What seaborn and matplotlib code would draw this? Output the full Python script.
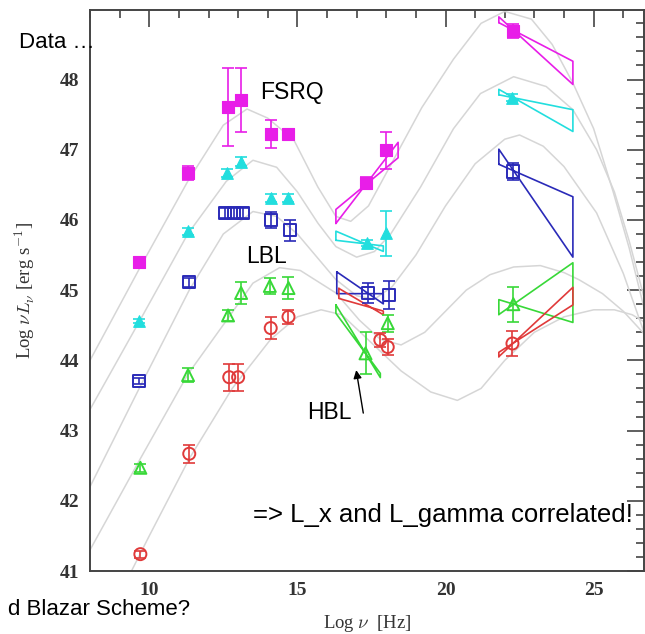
import numpy as np
import pandas as pd
import matplotlib
matplotlib.use("Agg")
import matplotlib.pyplot as plt
import seaborn as sns
from matplotlib.ticker import MultipleLocator

# ---------------- data ----------------
bins = ["bin1", "bin2", "bin3", "bin4", "bin5"]
colors = {"bin1": "#e81ee8", "bin2": "#22dede", "bin3": "#2a2ab8", "bin4": "#38d838", "bin5": "#e03a3a"}

# data points: log nu, log nuL_nu, error
b1_x = [9.66, 11.31, 12.66, 13.10, 14.10, 14.70, 17.30, 17.98, 22.29]
b1_y = [45.40, 46.67, 47.61, 47.71, 47.23, 47.23, 46.53, 46.99, 48.69]
b1_e = [0.03, 0.10, 0.55, 0.46, 0.20, 0.05, 0.08, 0.26, 0.10]

b2_x = [9.66, 11.31, 12.63, 13.10, 14.10, 14.70, 17.34, 18.00, 22.26]
b2_y = [44.56, 45.84, 46.67, 46.83, 46.31, 46.31, 45.67, 45.81, 47.74]
b2_e = [0.03, 0.05, 0.06, 0.06, 0.06, 0.06, 0.04, 0.32, 0.05]

b3_x = [9.66, 11.35, 12.55, 12.85, 13.15, 14.10, 14.75, 17.37, 18.08, 22.29]
b3_y = [43.71, 45.11, 46.10, 46.10, 46.10, 46.00, 45.85, 44.96, 44.93, 46.69]
b3_e = [0.04, 0.06, 0.07, 0.07, 0.07, 0.12, 0.15, 0.14, 0.20, 0.12]

b4_x = [9.70, 11.31, 12.66, 13.10, 14.07, 14.70, 17.30, 18.05, 22.29]
b4_y = [42.47, 43.79, 44.64, 44.96, 45.06, 45.03, 44.10, 44.53, 44.80]
b4_e = [0.06, 0.10, 0.08, 0.16, 0.12, 0.16, 0.30, 0.12, 0.25]

b5_x = [9.70, 11.35, 12.70, 13.00, 14.10, 14.70, 17.80, 18.05, 22.26]
b5_y = [41.24, 42.67, 43.76, 43.76, 44.46, 44.62, 44.29, 44.19, 44.24]
b5_e = [0.05, 0.13, 0.19, 0.19, 0.16, 0.10, 0.10, 0.12, 0.18]

# spectral bow-ties: pivot x, pivot y, x start, x end, slope a, slope b
b1_bowx = [17.30, 46.50, 16.30, 18.40, 0.55, 0.35]
b1_bowg = [22.30, 48.70, 21.80, 24.30, -0.22, -0.385]
b2_bowx = [17.30, 45.66, 16.30, 17.90, -0.05, -0.18]
b2_bowg = [22.30, 47.74, 21.80, 24.30, -0.085, -0.24]
b3_bowx = [17.40, 44.95, 16.33, 17.90, -0.29, 0.0]
b3_bowg = [22.30, 46.70, 21.80, 24.30, -0.185, -0.615]
b4_bowx = [17.30, 44.10, 16.30, 17.80, -0.69, -0.57]
b4_bowg = [22.30, 44.80, 21.80, 24.30, 0.295, -0.13]
b5_bowx = [17.50, 44.75, 16.40, 17.90, -0.25, -0.12]
b5_bowg = [22.30, 44.25, 21.80, 24.30, 0.395, 0.27]

# grey model SEDs
c1_x = [8.0, 9.66, 11.3, 12.5, 13.3, 14.0, 14.88, 15.69, 16.3, 16.8, 17.4, 18.25, 19.2, 20.27, 21.2, 22.0, 22.9, 23.6, 24.3, 25.0, 25.66, 26.2, 26.7]
c1_y = [44.0, 45.3, 46.55, 47.35, 47.58, 47.45, 47.14, 46.47, 46.05, 45.98, 46.2, 46.86, 47.6, 48.29, 48.8, 48.97, 48.86, 48.5, 47.95, 47.3, 46.4, 45.6, 44.75]
c2_x = [8.0, 9.66, 11.3, 12.6, 13.5, 14.3, 15.0, 15.7, 16.3, 17.0, 17.6, 18.15, 19.16, 20.27, 21.18, 22.3, 23.4, 24.3, 25.1, 25.7, 26.2, 26.7]
c2_y = [43.3, 44.55, 45.8, 46.55, 46.85, 46.75, 46.4, 45.95, 45.62, 45.47, 45.55, 45.8, 46.47, 47.3, 47.8, 48.04, 47.9, 47.57, 47.0, 46.4, 45.7, 44.9]
c3_x = [8.0, 9.66, 11.35, 12.5, 13.5, 14.3, 15.0, 15.7, 16.3, 17.0, 17.6, 18.2, 19.0, 20.0, 21.0, 22.0, 22.5, 23.3, 24.0, 25.1, 26.0, 26.7]
c3_y = [42.2, 43.6, 45.0, 45.8, 46.12, 46.05, 45.8, 45.45, 45.15, 44.92, 44.87, 45.05, 45.5, 46.2, 46.8, 47.15, 47.21, 47.05, 46.76, 46.1, 45.24, 44.4]
c4_x = [8.0, 9.7, 11.3, 12.66, 13.5, 14.4, 15.1, 16.3, 17.1, 17.8, 18.5, 19.3, 20.0, 20.7, 21.5, 22.3, 23.2, 24.0, 24.5, 25.3, 26.0, 26.7]
c4_y = [41.3, 42.6, 43.8, 44.6, 45.1, 45.32, 45.28, 44.96, 44.57, 44.3, 44.22, 44.4, 44.7, 45.0, 45.22, 45.33, 45.35, 45.25, 45.15, 44.95, 44.7, 44.38]
c5_x = [9.4, 10.0, 11.35, 12.8, 14.1, 15.0, 15.8, 16.5, 17.5, 18.5, 19.5, 20.4, 21.2, 22.0, 23.0, 24.0, 25.0, 25.7, 26.3, 26.7]
c5_y = [41.0, 41.5, 42.6, 43.6, 44.3, 44.62, 44.72, 44.65, 44.25, 43.85, 43.55, 43.43, 43.6, 44.0, 44.4, 44.62, 44.72, 44.72, 44.65, 44.55]

points = {"bin1": (b1_x, b1_y, b1_e), "bin2": (b2_x, b2_y, b2_e), "bin3": (b3_x, b3_y, b3_e),
          "bin4": (b4_x, b4_y, b4_e), "bin5": (b5_x, b5_y, b5_e)}
bowties = {"bin1": (b1_bowx, b1_bowg), "bin2": (b2_bowx, b2_bowg), "bin3": (b3_bowx, b3_bowg),
           "bin4": (b4_bowx, b4_bowg), "bin5": (b5_bowx, b5_bowg)}
curves = [(c1_x, c1_y), (c2_x, c2_y), (c3_x, c3_y), (c4_x, c4_y), (c5_x, c5_y)]
markers = {"bin1": "s", "bin2": "^", "bin3": "s", "bin4": "^", "bin5": "o"}
filled = {"bin1": True, "bin2": True, "bin3": False, "bin4": False, "bin5": False}

# ---------------- figure ----------------
sns.set_style("white")
plt.rcParams["font.family"] = ["Liberation Sans", "DejaVu Sans"]
plt.rcParams["mathtext.fontset"] = "cm"

W, H = 645, 634
fig = plt.figure(figsize=(W / 100, H / 100), dpi=100)
ax = fig.add_axes([90 / W, (H - 571) / H, (644 - 90) / W, (571 - 10) / H])

# model curves
for cx, cy in curves:
    dfc = pd.DataFrame({"x": cx, "y": cy})
    sns.lineplot(data=dfc, x="x", y="y", sort=False, estimator=None, ax=ax,
                 color="#d6d6d6", lw=1.1, zorder=1)

# bowties
for b in bins:
    for p in bowties[b]:
        x0, y0, x1, x2, s1, s2 = p
        bx = [x1, x2, x2, x1, x1]
        by = [y0 + s1 * (x1 - x0), y0 + s1 * (x2 - x0), y0 + s2 * (x2 - x0), y0 + s2 * (x1 - x0), y0 + s1 * (x1 - x0)]
        ax.plot(bx, by, color=colors[b], lw=1.2, zorder=2)

# data points with error bars
for b in bins:
    x, y, e = points[b]
    ax.errorbar(x, y, yerr=e, fmt="none", ecolor=colors[b], elinewidth=1.2, capsize=4.5, capthick=1.2, zorder=3)
    dfp = pd.DataFrame({"x": x, "y": y})
    if filled[b]:
        sns.scatterplot(data=dfp, x="x", y="y", ax=ax, marker=markers[b], s=70,
                        color=colors[b], edgecolor=colors[b], linewidth=0.8, zorder=4)
    else:
        sns.scatterplot(data=dfp, x="x", y="y", ax=ax, marker=markers[b], s=75,
                        facecolor="none", edgecolor=colors[b], linewidth=1.4, zorder=4)

ax.set_xlim(8.0, 26.7)
ax.set_ylim(41.0, 48.99)
ax.xaxis.set_major_locator(MultipleLocator(5))
ax.xaxis.set_minor_locator(MultipleLocator(1))
ax.yaxis.set_major_locator(MultipleLocator(1))
ax.yaxis.set_minor_locator(MultipleLocator(0.2))
ax.tick_params(which="both", direction="in", top=True, right=True, color="#444444", width=1.2)
ax.tick_params(which="major", length=12, labelsize=14, pad=8)
ax.tick_params(which="minor", length=6)
for lab in ax.get_xticklabels() + ax.get_yticklabels():
    lab.set_family(["Liberation Serif", "DejaVu Serif"])
    lab.set_color("#333333")
    lab.set_fontweight("bold")
for sp in ax.spines.values():
    sp.set_color("#444444")
    sp.set_linewidth(1.4)

ax.set_xlabel(r"Log $\nu$  [Hz]", family=["Liberation Serif", "DejaVu Serif"], fontsize=13.5, color="#333333", labelpad=10)
ax.set_ylabel(r"Log $\nu L_\nu$ [erg s$^{-1}$]", family=["Liberation Serif", "DejaVu Serif"], fontsize=13.5, color="#333333", labelpad=16)

# annotations
def ftext(px, py, s, **kw):
    fig.text(px / W, 1 - py / H, s, va="baseline", color="black", **kw)

ftext(95, 48, "Data …", ha="right", fontsize=16)
ftext(260, 99, "FSRQ", ha="left", fontsize=16.5)
ftext(246, 263, "LBL", ha="left", fontsize=16.5)
ftext(307, 419, "HBL", ha="left", fontsize=16.5)
ftext(253, 522, "=> L_x and L_gamma correlated!", ha="left", fontsize=18.5)
ftext(190, 615, "d Blazar Scheme?", ha="right", fontsize=16)

ax.annotate("", xy=(16.97, 43.9), xytext=(17.24, 43.21),
            arrowprops=dict(arrowstyle="-|>", color="black", lw=1.0, mutation_scale=12))

fig.savefig("out.png", dpi=100)
